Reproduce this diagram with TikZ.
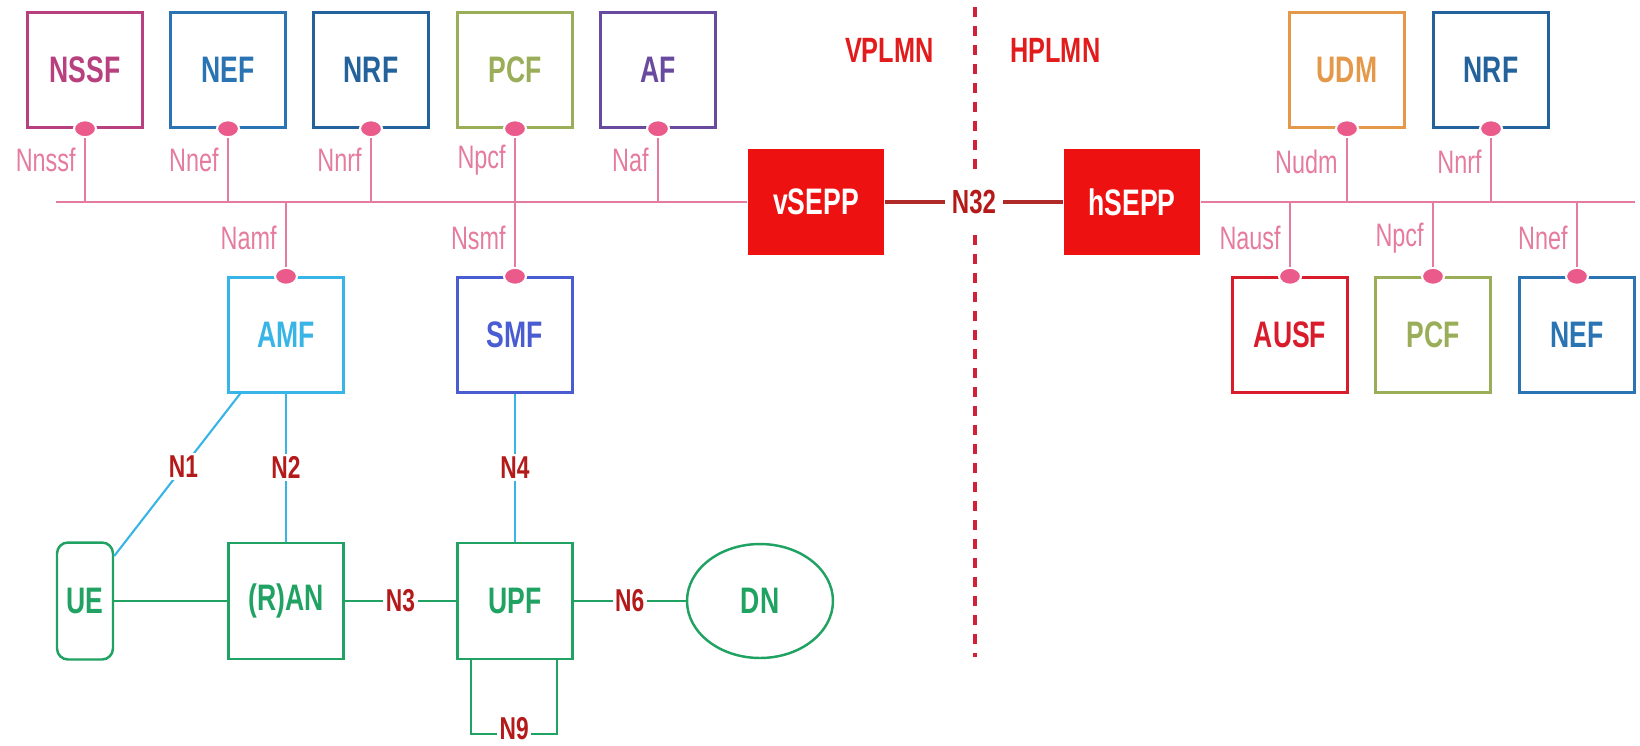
\documentclass[tikz,border=0pt]{standalone}
\usepackage{fontspec}
\setmainfont{Liberation Sans}[FakeStretch=0.72]
\usepackage{tikz}
\usetikzlibrary{positioning,shapes.geometric,calc}
\usepackage{xcolor}

\definecolor{nssfc}{HTML}{B8407E}
\definecolor{nefc}{HTML}{2A74B4}
\definecolor{nrfc}{HTML}{23629A}
\definecolor{pcfc}{HTML}{9AAE5A}
\definecolor{afc}{HTML}{6A4A9E}
\definecolor{amfc}{HTML}{38B4E6}
\definecolor{smfc}{HTML}{4A5CD2}
\definecolor{udmc}{HTML}{E4994A}
\definecolor{ausfc}{HTML}{D81C2C}
\definecolor{upc}{HTML}{20A262}
\definecolor{busc}{HTML}{E57C9E}
\definecolor{dotc}{HTML}{EA5A8A}
\definecolor{nlblc}{HTML}{B41A1A}
\definecolor{seppc}{HTML}{EE1111}
\definecolor{n32c}{HTML}{B02A2A}
\definecolor{plmnc}{HTML}{E21C1C}
\definecolor{divc}{HTML}{D0203A}

\tikzset{
  nfbox/.style={draw=#1, text=#1, line width=1.4pt, minimum width=2.3cm,
    minimum height=2.3cm, inner sep=0pt, font=\fontsize{21}{21}\selectfont\bfseries},
  sbidot/.style={ellipse, fill=dotc, draw=white, line width=1.2pt,
    minimum width=0.44cm, minimum height=0.34cm, inner sep=0pt},
  svc/.style={text=busc, inner sep=0pt, font=\fontsize{18.5}{18.5}\selectfont},
  nlbl/.style={text=nlblc, fill=white, inner sep=1.5pt, font=\fontsize{18}{18}\selectfont\bfseries},
  sepp/.style={fill=seppc, text=white, minimum width=2.74cm, minimum height=2.14cm,
    inner sep=0pt, font=\fontsize{21}{21}\selectfont\bfseries},
  plmn/.style={text=plmnc, inner sep=0pt, font=\fontsize{20}{20}\selectfont\bfseries},
  busline/.style={busc, line width=1.1pt},
  stub/.style={busc, line width=0.9pt},
  upline/.style={upc, line width=1.2pt},
  cpline/.style={amfc, line width=1.2pt},
  n32line/.style={n32c, line width=1.8pt},
  divline/.style={divc, line width=2pt, dash pattern=on 0.2cm off 0.18cm},
}

\begin{document}
\begin{tikzpicture}
  \begin{scope}[x=0.02cm, y=-0.02cm]
    \useasboundingbox (0,0) rectangle (1640,745);

    % Service based bus and SEPPs
    \coordinate (busL) at (56,202);
    \coordinate (busR) at (1635,202);
    \node[sepp] (vsepp) at (816,202) {vSEPP};
    \node[sepp] (hsepp) at (1132,202) {hSEPP};
    \draw[busline] (busL) -- (vsepp);
    \draw[busline] (hsepp) -- (busR);

    % VPLMN functions above the bus
    \foreach \nm/\lbl/\cx/\col/\svcname in {nssf/NSSF/85/nssfc/Nnssf, nef/NEF/228/nefc/Nnef,
        nrf/NRF/371/nrfc/Nnrf, pcf/PCF/515/pcfc/Npcf, af/AF/658/afc/Naf} {
      \node[nfbox=\col] (\nm) at (\cx,70) {\lbl};
      \node[sbidot] (\nm-d) at (\nm.south) {};
      \draw[stub] (\nm-d) -- (\nm-d |- busL);
      \node[svc, anchor=east] (\nm-l) at (\cx-9,160) {\svcname};
    }

    % HPLMN functions above the bus
    \foreach \nm/\lbl/\cx/\col/\svcname in {udm/UDM/1347/udmc/Nudm, hnrf/NRF/1491/nrfc/Nnrf} {
      \node[nfbox=\col] (\nm) at (\cx,70) {\lbl};
      \node[sbidot] (\nm-d) at (\nm.south) {};
      \draw[stub] (\nm-d) -- (\nm-d |- busL);
      \node[svc, anchor=east] (\nm-l) at (\cx-9,162) {\svcname};
    }

    % Functions below the bus
    \foreach \nm/\lbl/\cx/\col/\svcname in {amf/AMF/286/amfc/Namf, smf/SMF/515/smfc/Nsmf,
        ausf/AUSF/1290/ausfc/Nausf, hpcf/PCF/1433/pcfc/Npcf, hnef/NEF/1577/nefc/Nnef} {
      \node[nfbox=\col] (\nm) at (\cx,335) {\lbl};
      \node[sbidot] (\nm-d) at (\nm.north) {};
      \draw[stub] (\nm-d |- busL) -- (\nm-d);
      \node[svc, anchor=east] (\nm-l) at (\cx-9,238) {\svcname};
    }

    % Border between the two networks
    \coordinate (divtop) at (975,7);
    \coordinate (divbot) at (975,657);
    \draw[divline] (divtop) -- (divbot);
    \node[plmn, anchor=east] (vplmn) at (934,50) {VPLMN};
    \node[plmn, anchor=west] (hplmn) at (1010,50) {HPLMN};
    \draw[n32line] (vsepp) -- node[nlbl, font=\fontsize{19}{19}\selectfont\bfseries,
      inner xsep=4pt, inner ysep=8pt] (n32) {N32} (hsepp);

    % User plane
    \node[nfbox=upc, minimum width=1.12cm, minimum height=2.34cm, rounded corners=0.22cm] (ue) at (85,601) {UE};
    \node[nfbox=upc, minimum height=2.32cm] (ran) at (286,601) {(R)AN};
    \node[nfbox=upc, minimum height=2.32cm] (upf) at (515,601) {UPF};
    \node[nfbox=upc, ellipse, minimum width=2.92cm, minimum height=2.28cm] (dn) at (760,601) {DN};

    \draw[upline] (ue) -- (ran);
    \draw[upline] (ran) -- node[nlbl] (n3) {N3} (upf);
    \draw[upline] (upf) -- node[nlbl] (n6) {N6} (dn);
    \draw[cpline] (amf) -- node[nlbl] (n2) {N2} (ran);
    \draw[cpline] (smf) -- node[nlbl] (n4) {N4} (upf);
    \draw[cpline] (amf.232) -- node[nlbl, pos=0.45] (n1) {N1} (ue.57);
    \draw[upline] ($(upf.south west)+(15,0)$) -- ++(0,74)
      -- node[nlbl, yshift=0.12cm] (n9) {N9} ++(86,0) -- ++(0,-74);
  \end{scope}
\end{tikzpicture}
\end{document}
